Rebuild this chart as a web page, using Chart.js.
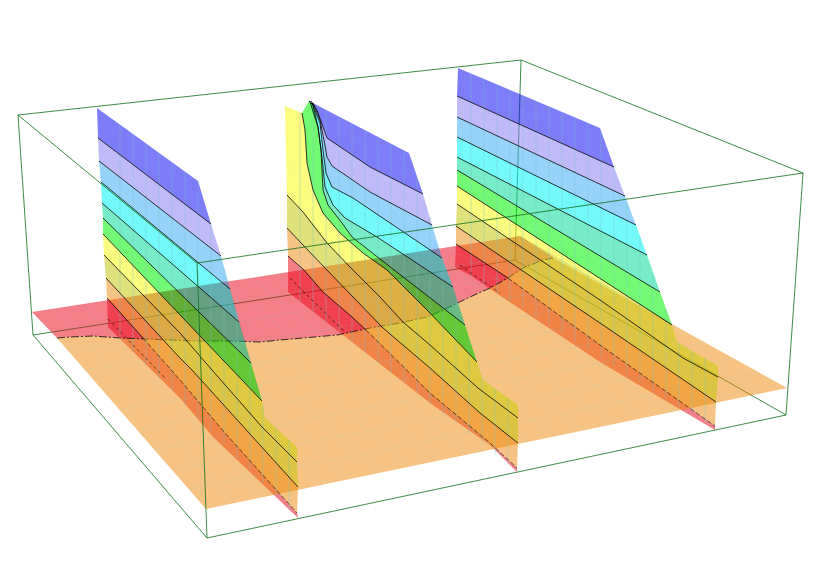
<!DOCTYPE html>
<html>
<head>
<meta charset="utf-8">
<title>Contour walls</title>
<script src="https://cdn.jsdelivr.net/npm/chart.js@4/dist/chart.umd.min.js"></script>
<style>
html, body { margin: 0; padding: 0; background: #fff; }
canvas { display: block; }
</style>
</head>
<body>
<canvas id="surface" width="834" height="564"></canvas>
<script>
var boxTop = [[18,115],[521,60],[803,173],[197,263],[18,115]];
var boxFrontBottom = [[33,335],[207,538],[786,415]];
var boxBackBottom = [[33,335],[515,260],[786,415]];
var boxBackPost = [[521,60],[515,260]];
var boxLeftPost = [[18,115],[33,335]];
var boxFrontPost = [[197,263],[207,538]];
var boxRightPost = [[803,173],[786,415]];

var redPlaneEdge = [[32,312],[520,236],[553,257]];
var orangePlaneEdge = [[553,257],[787,388],[206,509],[57,338]];
var planeCurve = [[57,338],[70,337],[93,336],[120,338],[147,339],[193,341],[233,341],[260,342],[280,340],[337,335],[370,328],[400,323],[427,317],[443,310],[470,297],[490,288],[508,278],[523,268],[543,260],[553,258]];

// band colours, top of the wall to the bottom
var bandColors = [
    "rgba(10,10,246,0.53)",
    "rgba(140,130,246,0.55)",
    "rgba(64,173,246,0.55)",
    "rgba(0,246,246,0.55)",
    "rgba(10,220,155,0.55)",
    "rgba(0,246,0,0.55)",
    "rgba(250,250,20,0.55)",
    "rgba(200,200,15,0.55)",
    "rgba(240,135,5,0.5)"
];
var redBand = "rgba(235,0,20,0.5)";
var redPlane = "rgba(235,0,20,0.5)";
var orangePlane = "rgba(240,135,5,0.5)";
var meshColor = "rgba(130,205,200,0.17)";
var lineColor = "rgba(0,0,0,0.78)";
var boxColor = "rgba(15,110,25,0.8)";
var overlapShade = "rgba(0,0,0,0.1)";

// wall 1: top edge, contours, dashed line, foot
var wall1Lines = [
    [[97,108],[198,181]],
    [[98,138],[211,224]],
    [[99,161],[221,256]],
    [[101,182],[230,289]],
    [[102,203],[239,322]],
    [[103,218],[251,363]],
    [[103,234],[262,401]],
    [[104,255],[180,333],[212,370],[262,427],[297,462]],
    [[106,278],[180,358],[192,370],[298,487]],
    [[107,298],[143,338],[180,380],[225,433],[297,513]]
];
var wall1Step = [[265,418],[297,447]];
var wall1Dash = [[108,319],[133,345],[165,378]];
var wall1Foot = [[108,327],[180,398],[213,437],[298,518]];
var wall1Overlap = [[143,295],[228,281],[262,401],[265,418],[297,447],[297,462],[262,427],[212,370],[180,333]];
var wall1MeshCross = [[120,125,339],[133,134,352],[146,143,366],[159,153,379],[172,162,392],[185,172,405],[198,181,418],[211,224,431],[224,268,444],[237,312,457],[250,358,470],[263,405,483],[276,428,496],[289,440,510]];
var wall1MeshRows = [[[97,123],[204,202]],[[99,150],[216,240]],[[100,171],[226,272]],[[101,192],[234,305]],[[103,226],[256,382]],[[103,244],[280,432]],[[105,266],[297,474]],[[106,288],[297,500]]];

// wall 2
var wall2Lines = [
    [[309,101],[409,153]],
    [[311,101],[317,110],[323,127],[327,138],[370,167],[423,194]],
    [[313,103],[320,120],[324,140],[327,157],[332,166],[370,192],[432,225]],
    [[312,103],[320,123],[323,150],[326,173],[332,187],[353,198],[442,258]],
    [[310,102],[318,127],[322,157],[325,187],[333,205],[345,218],[377,237],[453,287]],
    [[309,101],[313,105],[318,127],[321,150],[323,190],[328,205],[342,223],[352,237],[380,259],[465,325]],
    [[302,113],[305,130],[307,163],[313,190],[323,213],[340,233],[363,253],[387,270],[427,310],[477,362]],
    [[287,195],[303,212],[327,243],[350,267],[380,297],[403,322],[430,345],[478,388],[518,418]],
    [[287,228],[303,245],[327,270],[353,297],[383,328],[430,368],[480,413],[518,443]],
    [[288,256],[304,270],[323,292],[352,317],[366,330],[430,393],[490,443],[517,468]]
];
var wall2Step = [[483,380],[518,405]];
var wall2YellowTop = [[285,106]];
var wall2Dash = [[290,278],[315,303],[345,332]];
var wall2Foot = [[288,292],[430,403],[490,445],[517,472]];
var wall2Overlap = [[345,263],[439,248],[442,258],[453,287],[465,325],[477,362],[483,380],[518,405],[518,418],[478,388],[430,345],[403,322],[380,297],[350,267]];
var wall2MeshCross = [[300,112,301],[313,103,312],[326,110,322],[339,117,332],[352,124,342],[365,130,352],[378,137,363],[391,144,373],[404,150,383],[417,177,393],[430,217,404],[443,257,414],[456,297,424],[469,337,434],[482,377,445],[495,389,455],[508,398,465]];
var wall2MeshRows = [[[330,125],[416,174]],[[340,155],[428,210]],[[345,180],[437,242]],[[360,212],[448,272]],[[375,245],[459,306]],[[385,265],[471,344]],[[287,160],[300,175],[330,225],[400,290],[497,392]],[[287,212],[330,256],[400,335],[518,431]],[[288,242],[350,305],[430,381],[517,456]]];

// wall 3
var wall3Lines = [
    [[458,68],[600,128]],
    [[457,96],[614,167]],
    [[457,117],[625,196]],
    [[457,137],[636,225]],
    [[457,157],[647,255]],
    [[457,170],[660,292]],
    [[457,186],[672,325]],
    [[457,204],[600,300],[683,358],[718,377]],
    [[456,226],[600,323],[716,402]],
    [[456,244],[508,278],[600,345],[688,407],[715,426]]
];
var wall3Step = [[677,342],[718,366]];
var wall3Dash = [[460,265],[475,276],[500,293]];
var wall3Foot = [[455,267],[473,277],[490,289],[600,362],[715,430]];
var wall3Overlap = [[507,238],[520,236],[671,322],[672,325],[677,342],[718,366],[718,377],[683,358],[600,300]];
var wall3MeshCross = [[471,73,277],[484,79,285],[497,84,293],[510,90,301],[523,95,309],[536,101,318],[549,106,326],[562,112,334],[575,117,342],[588,123,350],[601,131,358],[614,166,366],[627,202,374],[640,237,383],[653,273,391],[666,309,399],[679,343,407],[692,351,415],[705,358,423]];
var wall3MeshRows = [[[457,82],[607,148]],[[457,107],[620,182]],[[457,127],[630,210]],[[457,147],[641,240]],[[457,164],[654,274]],[[457,178],[666,309]],[[457,195],[700,358]],[[456,215],[717,390]],[[456,235],[715,414]]];

// plane mesh, two directions
var planeMeshAcross = [[[49,332],[547,251]],[[67,351],[573,266]],[[84,371],[600,282]],[[102,391],[627,297]],[[119,410],[654,312]],[[136,430],[680,327]],[[154,450],[707,342]],[[171,470],[734,358]],[[189,489],[760,373]]];
var planeMeshDepth = [[[56,308],[235,503]],[[81,304],[264,497]],[[105,301],[293,491]],[[130,297],[322,485]],[[154,293],[351,479]],[[178,289],[380,473]],[[203,285],[409,467]],[[227,282],[438,461]],[[252,278],[467,455]],[[276,274],[497,449]],[[300,270],[526,442]],[[325,266],[555,436]],[[349,263],[584,430]],[[374,259],[613,424]],[[398,255],[642,418]],[[422,251],[671,412]],[[447,247],[700,406]],[[471,244],[729,400]],[[496,240],[758,394]]];

var datasets = [];

function toXY(points) {
    var out = [];
    for (var i = 0; i < points.length; i++) {
        out.push({x: points[i][0], y: points[i][1]});
    }
    return out;
}

function addShape(points, color) {
    var closed = points.concat([points[0]]);
    datasets.push({
        data: toXY(closed),
        showLine: true,
        fill: "shape",
        backgroundColor: color,
        borderWidth: 0,
        pointRadius: 0,
        tension: 0,
        order: -datasets.length
    });
}

function addLine(points, color, width, dash) {
    datasets.push({
        data: toXY(points),
        showLine: true,
        fill: false,
        borderColor: color,
        borderWidth: width,
        borderDash: dash || [],
        pointRadius: 0,
        tension: 0,
        order: -datasets.length
    });
}

function reversed(points) {
    return points.slice().reverse();
}

function addMesh(rows) {
    for (var i = 0; i < rows.length; i++) {
        addLine(rows[i], meshColor, 0.8);
    }
}

// what sits under the planes
addLine(boxBackBottom, boxColor, 1);
addLine(boxBackPost, boxColor, 1);
addShape(wall1Lines[9].concat(reversed(wall1Foot)), redBand);
addShape(wall2Lines[9].concat(reversed(wall2Foot)), redBand);
addShape(wall3Lines[9].concat(reversed(wall3Foot)), redBand);

// planes
addShape(redPlaneEdge.concat(reversed(planeCurve)), redPlane);
addShape(planeCurve.concat(orangePlaneEdge.slice(1)), orangePlane);
addMesh(planeMeshAcross);
addMesh(planeMeshDepth);
addLine(planeCurve, lineColor, 1, [8, 2, 2, 2]);

function addWall(lines, step, dash, overlap, cross, rows, yellowTop, dashFrom) {
    var i;
    for (i = 0; i < lines.length - 1; i++) {
        var upper = lines[i];
        if (i == 6) {
            upper = (yellowTop || []).concat(upper, step);
        }
        addShape(upper.concat(reversed(lines[i + 1])), bandColors[i]);
    }
    addShape(overlap, overlapShade);
    for (i = 0; i < cross.length; i++) {
        addLine([[cross[i][0], cross[i][1]], [cross[i][0], cross[i][2]]], meshColor, 0.8);
    }
    addMesh(rows);
    addLine(dash, "rgba(0,0,0,0.65)", 0.9, [3, 3]);
    for (i = 1; i < lines.length - 1; i++) {
        addLine(lines[i], lineColor, 1);
    }
    // the last contour runs into the plane and breaks up there
    var last = lines[lines.length - 1];
    addLine(last.slice(0, dashFrom + 1), lineColor, 1);
    addLine(last.slice(dashFrom), "rgba(0,0,0,0.65)", 0.9, [5, 2]);
}

addWall(wall1Lines, wall1Step, wall1Dash, wall1Overlap, wall1MeshCross, wall1MeshRows, null, 1);
addWall(wall2Lines, wall2Step, wall2Dash, wall2Overlap, wall2MeshCross, wall2MeshRows, wall2YellowTop, 4);
addWall(wall3Lines, wall3Step, wall3Dash, wall3Overlap, wall3MeshCross, wall3MeshRows, null, 1);

// box edges in front of everything
addLine(boxTop, boxColor, 1);
addLine(boxFrontBottom, boxColor, 1);
addLine(boxLeftPost, boxColor, 1);
addLine(boxFrontPost, boxColor, 1);
addLine(boxRightPost, boxColor, 1);

var chart = new Chart(document.getElementById("surface").getContext("2d"), {
    type: "scatter",
    data: {datasets: datasets},
    options: {
        responsive: false,
        animation: false,
        layout: {padding: 0},
        plugins: {legend: {display: false}, tooltip: {enabled: false}},
        scales: {
            x: {type: "linear", display: false, min: 0, max: 834},
            y: {type: "linear", display: false, min: 0, max: 564, reverse: true}
        }
    }
});
</script>
</body>
</html>
